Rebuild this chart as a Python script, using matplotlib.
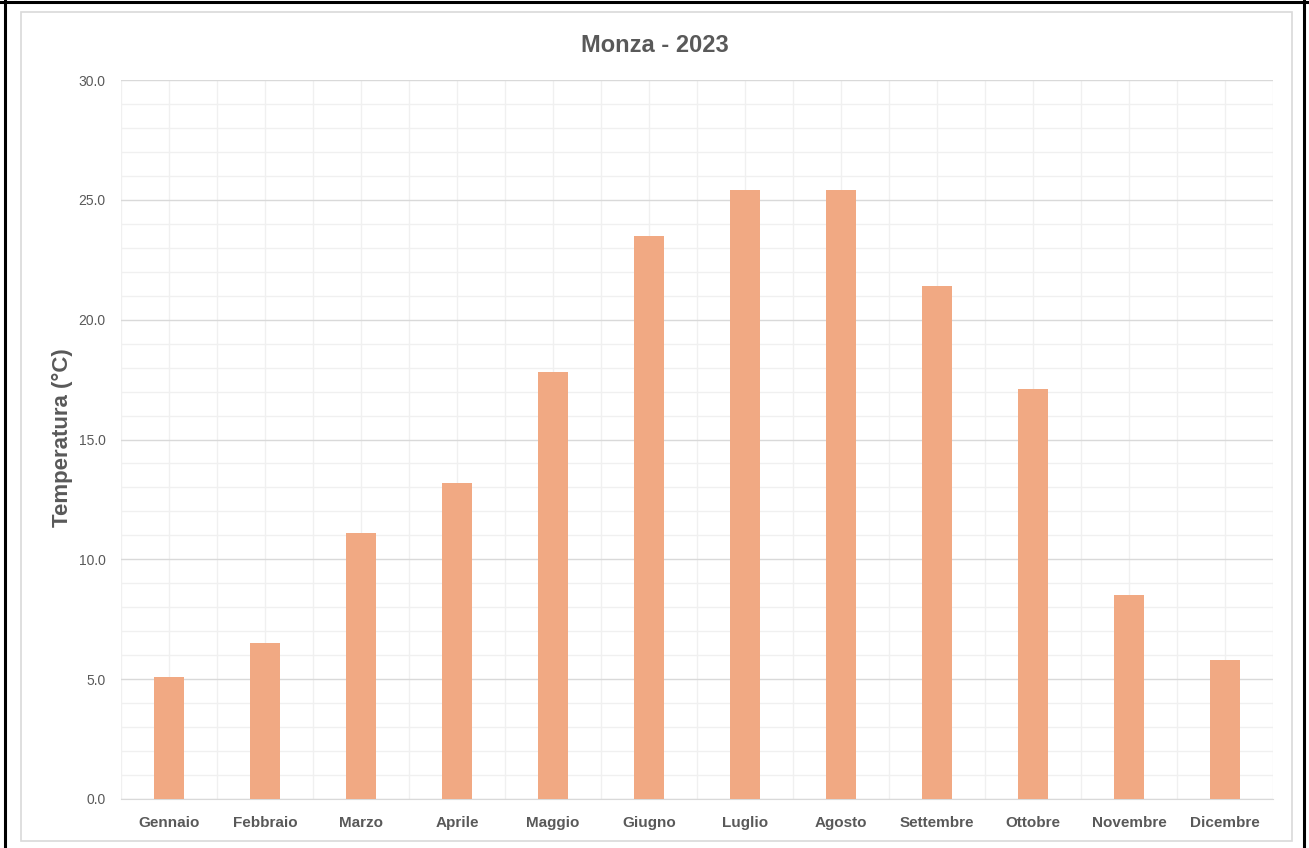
import matplotlib.pyplot as plt
import numpy as np
from matplotlib.lines import Line2D
from matplotlib.patches import Rectangle
from matplotlib.ticker import MultipleLocator

mesi = ['Gennaio', 'Febbraio', 'Marzo', 'Aprile', 'Maggio', 'Giugno',
        'Luglio', 'Agosto', 'Settembre', 'Ottobre', 'Novembre', 'Dicembre']
temperature = [5.1, 6.5, 11.1, 13.2, 17.8, 23.5, 25.4, 25.4, 21.4, 17.1, 8.5, 5.8]

plt.rcParams['font.family'] = ['Liberation Sans', 'DejaVu Sans']
grey = '#595959'

fig = plt.figure(figsize=(13.09, 8.48), dpi=100)
ax = fig.add_axes([121 / 1309, 1 - 799 / 848, (1273 - 121) / 1309, (799 - 80) / 848])

x = np.arange(len(mesi))
ax.bar(x, temperature, width=0.32, color='#F1A983', zorder=3)

ax.set_xlim(-0.5, len(mesi) - 0.5)
ax.set_ylim(0, 30)
ax.yaxis.set_major_locator(MultipleLocator(5))
ax.yaxis.set_minor_locator(MultipleLocator(1))
ax.set_xticks(x)
ax.set_xticks(np.arange(-0.5, len(mesi), 0.5), minor=True)
ax.set_yticklabels([f'{v:.1f}' for v in ax.get_yticks()])
ax.set_xticklabels(mesi, fontweight='bold', fontsize=11, color=grey)

ax.tick_params(axis='both', which='both', length=0)
ax.tick_params(axis='y', pad=11, labelsize=10, labelcolor=grey)
ax.tick_params(axis='x', pad=12)

ax.grid(axis='y', which='major', color='#d9d9d9', lw=1.0, zorder=1)
ax.grid(axis='y', which='minor', color='#f0f0f0', lw=1.0, zorder=0)
ax.grid(axis='x', which='both', color='#f0f0f0', lw=1.0, zorder=0)
for s in ['top', 'right', 'left']:
    ax.spines[s].set_visible(False)
ax.spines['bottom'].set_color('#d9d9d9')

fig.text(655 / 1309, 1 - 45 / 848, 'Monza - 2023', ha='center', va='center',
         fontsize=17, fontweight='bold', color=grey)
fig.text(62 / 1309, 1 - 438 / 848, 'Temperatura (°C)', rotation=90, ha='center', va='center',
         fontsize=16, fontweight='bold', color=grey)

# bordo del grafico
fig.patches.append(Rectangle((21 / 1309, 1 - 841 / 848), (1292 - 21) / 1309, (841 - 12) / 848,
                             transform=fig.transFigure, fill=False, ec='#d9d9d9', lw=1.2))
fig.lines.append(Line2D([4.5 / 1309, 4.5 / 1309], [0, 1], transform=fig.transFigure, color='k', lw=2.2))
fig.lines.append(Line2D([1303.5 / 1309, 1303.5 / 1309], [0, 1], transform=fig.transFigure, color='k', lw=2.2))
fig.lines.append(Line2D([0, 1], [1 - 1.5 / 848, 1 - 1.5 / 848], transform=fig.transFigure, color='k', lw=2.2))

plt.savefig('out.png', dpi=100)
